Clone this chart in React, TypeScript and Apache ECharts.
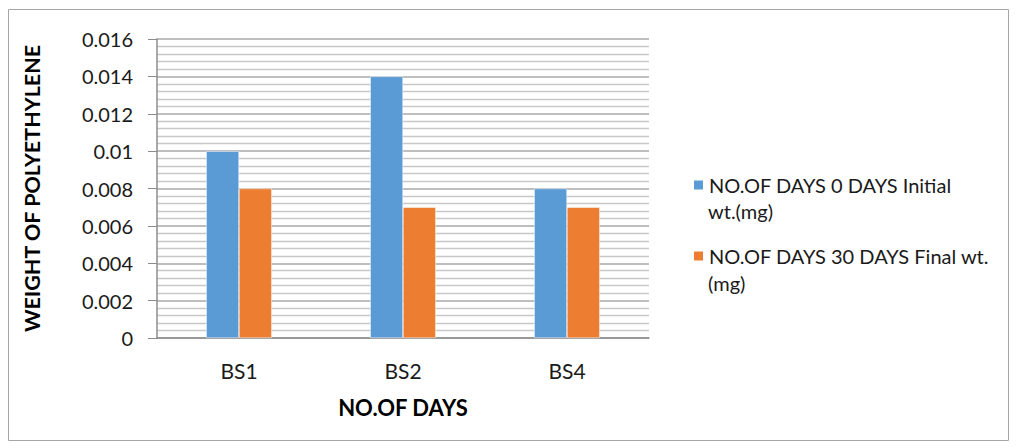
import React, { useEffect, useRef } from "react";
import * as echarts from "echarts";

const categories = ["BS1", "BS2", "BS4"];
const initialWt = [0.01, 0.014, 0.008];
const finalWt = [0.008, 0.007, 0.007];
const seriesNames = ["NO.OF DAYS 0 DAYS Initial wt.(mg)", "NO.OF DAYS 30 DAYS Final wt.(mg)"];
const legendFirstLines = ["NO.OF DAYS 0 DAYS Initial", "NO.OF DAYS 30 DAYS Final wt."];
const legendSecondLines = ["wt.(mg)", "(mg)"];

const FONT = "Lato";

export default function App() {
  const ref = useRef<HTMLDivElement>(null);
  useEffect(() => {
    if (!ref.current) return;
    const chart = echarts.init(ref.current, null, { renderer: "svg" });
    chart.setOption({
      animation: false,
      backgroundColor: "#ffffff",
      textStyle: { fontFamily: FONT },
      graphic: [
        {
          type: "rect",
          shape: { x: 8.5, y: 9.5, width: 1000, height: 431 },
          style: { fill: "none", stroke: "#a6a6a6", lineWidth: 1 },
          silent: true,
        },
        {
          type: "text",
          x: 708,
          y: 211,
          style: { text: legendSecondLines[0], font: `20px ${FONT}`, fill: "#1a1a1a", verticalAlign: "middle" },
          silent: true,
        },
        {
          type: "text",
          x: 708,
          y: 283,
          style: { text: legendSecondLines[1], font: `20px ${FONT}`, fill: "#1a1a1a", verticalAlign: "middle" },
          silent: true,
        },
      ],
      grid: { left: 157, right: 368, top: 39, bottom: 110 },
      legend: {
        orient: "vertical",
        left: 687,
        top: 169,
        itemWidth: 11,
        itemHeight: 11,
        itemGap: 49,
        icon: "rect",
        data: seriesNames,
        formatter: (n: string) => legendFirstLines[seriesNames.indexOf(n)] || n,
        textStyle: { fontFamily: FONT, fontSize: 20, color: "#1a1a1a", lineHeight: 22 },
      },
      xAxis: {
        type: "category",
        data: categories,
        name: "NO.OF DAYS",
        nameLocation: "middle",
        nameGap: 58,
        nameTextStyle: { fontFamily: FONT, fontSize: 22, fontWeight: "bold", color: "#000" },
        axisLine: { lineStyle: { color: "#8c8c8c", width: 1.5 } },
        axisTick: { show: false },
        axisLabel: { fontFamily: FONT, fontSize: 21, color: "#1a1a1a", margin: 22 },
      },
      yAxis: {
        type: "value",
        min: 0,
        max: 0.016,
        interval: 0.002,
        name: "WEIGHT OF POLYETHYLENE",
        nameLocation: "middle",
        nameGap: 114,
        nameTextStyle: { fontFamily: FONT, fontSize: 21.5, fontWeight: "bold", color: "#000" },
        axisLine: { show: true, lineStyle: { color: "#8c8c8c", width: 1.5 } },
        axisTick: { show: true, length: 9, lineStyle: { color: "#8c8c8c" } },
        axisLabel: { fontFamily: FONT, fontSize: 20, color: "#1a1a1a", margin: 24 },
        splitLine: { show: true, lineStyle: { color: "#a8a8a8", width: 1.5 } },
        minorTick: { show: false, splitNumber: 5 },
        minorSplitLine: { show: true, lineStyle: { color: "#c8c8c8", width: 1.3 } },
      },
      series: [
        {
          name: seriesNames[0],
          type: "bar",
          data: initialWt,
          barGap: "0%",
          barCategoryGap: "60%",
          itemStyle: { color: "#5b9bd5", borderColor: "#ffffff", borderWidth: 0.5 },
        },
        {
          name: seriesNames[1],
          type: "bar",
          data: finalWt,
          itemStyle: { color: "#ed7d31", borderColor: "#ffffff", borderWidth: 0.5 },
        },
      ],
    });
    return () => chart.dispose();
  }, []);
  return <div ref={ref} style={{ position: "fixed", left: 0, top: 0, width: 1017, height: 448 }} />;
}
